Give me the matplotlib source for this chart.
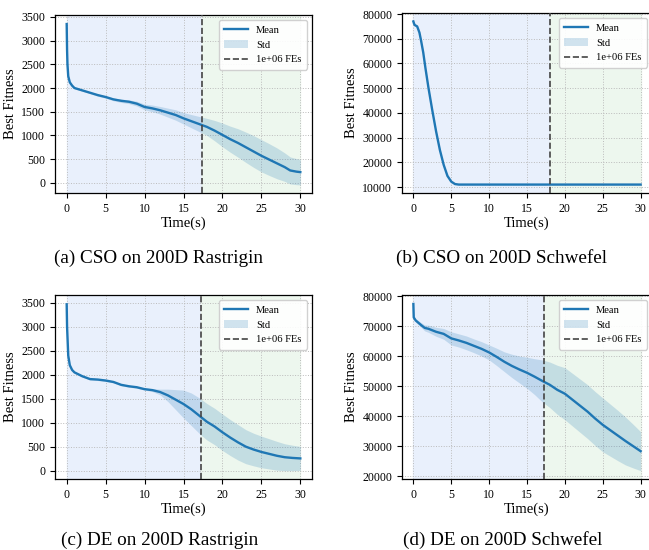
import numpy as np
import matplotlib.pyplot as plt
from matplotlib.ticker import MultipleLocator

plt.rcParams['font.family'] = ['Liberation Serif', 'DejaVu Serif']

# ---------------------------------------------------------------------------
# datos
# ---------------------------------------------------------------------------
# (a) CSO en Rastrigin 200D
t_cso_ras = [0, 0.05, 0.1, 0.2, 0.4, 0.7, 1, 2, 3, 4, 5, 6, 7, 8, 9, 10, 11, 12,
             13, 14, 15, 16, 17, 18, 19, 20, 21, 22, 23, 24, 25, 26, 27, 28,
             28.7, 29.5, 30]
mean_cso_ras = [3350, 2800, 2500, 2250, 2120, 2050, 2000, 1950, 1900, 1850,
                1810, 1760, 1730, 1710, 1670, 1600, 1570, 1530, 1480, 1430,
                1360, 1300, 1240, 1180, 1100, 1010, 920, 840, 750, 660, 570,
                490, 410, 330, 260, 235, 225]
std_cso_ras = [20, 20, 20, 20, 20, 20, 20, 20, 20, 25, 25, 30, 35, 40, 50, 60,
               70, 80, 95, 110, 120, 140, 160, 180, 215, 250, 275, 300, 320,
               335, 340, 335, 325, 300, 285, 275, 270]

# (b) CSO en Schwefel 200D
t_cso_sch = [0, 0.1, 0.2, 0.5, 0.8, 1.0, 1.3, 1.6, 2.0, 2.5, 3.0, 3.5, 4.0,
             4.5, 5.0, 5.5, 6.0, 10, 15, 20, 25, 30]
mean_cso_sch = [77000, 76000, 75500, 75000, 72500, 69500, 64500, 58000,
                50000, 41000, 32500, 25000, 19000, 14500, 12200, 11200, 11000,
                11000, 11000, 11000, 11000, 11000]
std_cso_sch = [100, 150, 200, 250, 300, 350, 400, 400, 400, 400, 400, 400,
               350, 300, 200, 150, 100, 100, 100, 100, 100, 100]

# (c) DE en Rastrigin 200D
t_de_ras = [0, 0.05, 0.1, 0.2, 0.4, 0.7, 1, 2, 3, 4, 5, 6, 7, 8, 9, 10, 11, 12,
            13, 14, 15, 16, 17, 17.3, 18, 19, 20, 21, 22, 23, 24, 25, 26, 27,
            28, 29, 30]
mean_de_ras = [3470, 3000, 2800, 2400, 2200, 2100, 2050, 1970, 1910, 1900,
               1880, 1850, 1790, 1760, 1740, 1700, 1680, 1640, 1570, 1480,
               1390, 1280, 1150, 1110, 1020, 920, 800, 690, 590, 500, 440,
               390, 350, 310, 280, 265, 255]
std_de_ras = [20, 20, 20, 20, 20, 20, 20, 20, 20, 20, 20, 20, 20, 20, 20, 20,
              30, 60, 130, 210, 290, 340, 370, 375, 380, 380, 380, 375, 370,
              355, 340, 330, 315, 300, 280, 265, 250]

# (d) DE en Schwefel 200D
t_de_sch = [0, 0.05, 0.3, 1, 1.5, 2, 3, 4, 5, 6, 7, 8, 9, 10, 11, 12, 13, 14,
            15, 16, 17, 18, 19, 20, 21, 22, 23, 24, 25, 26, 27, 28, 29, 30]
mean_de_sch = [77500, 73000, 72000, 70500, 69500, 69200, 68200, 67500, 66000,
               65300, 64500, 63500, 62500, 61300, 59800, 58200, 56800, 55600,
               54500, 53200, 51800, 50500, 48800, 47500, 45500, 43500, 41500,
               39200, 37100, 35300, 33500, 31700, 30000, 28300]
std_de_sch = [200, 400, 600, 800, 1000, 1200, 1500, 1800, 2200, 2200, 2300,
              2300, 2400, 2500, 2900, 3300, 3900, 4500, 5200, 6000, 7000, 7600,
              8200, 8700, 8800, 8900, 9000, 9000, 9000, 8700, 8400, 8000,
              7300, 6500]

# tiempo al que se alcanzan 1e+06 FEs
t_fes = [17.4, 18.1, 17.3, 17.2]
paso_y = [500, 10000, 500, 10000]

titulos = ['(a) CSO on 200D Rastrigin', '(b) CSO on 200D Schwefel',
           '(c) DE on 200D Rastrigin', '(d) DE on 200D Schwefel']

paneles = [
    (t_cso_ras, mean_cso_ras, std_cso_ras),
    (t_cso_sch, mean_cso_sch, std_cso_sch),
    (t_de_ras, mean_de_ras, std_de_ras),
    (t_de_sch, mean_de_sch, std_de_sch),
]

# posiciones de los ejes en pixeles (izq, arriba, der, abajo)
W, H = 649, 550
cajas = [(55, 15, 312, 193), (402, 13, 652, 193),
         (55, 295, 312, 479), (402, 295, 652, 479)]
pos_titulos = [(159, 258), (502, 258), (160, 540), (503, 540)]

fig = plt.figure(figsize=(W / 100, H / 100), dpi=100)

for i, (t, m, s) in enumerate(paneles):
    x0, y0, x1, y1 = cajas[i]
    ax = fig.add_axes([x0 / W, 1 - y1 / H, (x1 - x0) / W, (y1 - y0) / H])
    t = np.array(t)
    m = np.array(m, dtype=float)
    s = np.array(s, dtype=float)

    ax.axvspan(0, t_fes[i], color='#e9f0fc', zorder=0)
    ax.axvspan(t_fes[i], 30, color='#edf7ee', zorder=0)
    ax.fill_between(t, m - s, m + s, color='#1f77b4', alpha=0.2, lw=0,
                    label='Std', zorder=2)
    ax.plot(t, m, color='#1f77b4', lw=1.7, label='Mean', zorder=3)
    ax.axvline(t_fes[i], color='#444444', ls='--', lw=1.2,
               label='1e+06 FEs', zorder=4)

    ax.grid(True, ls=':', color='#bbbbbb', lw=0.7)
    ax.set_axisbelow(True)
    ax.set_xticks([0, 5, 10, 15, 20, 25, 30])
    ax.yaxis.set_major_locator(MultipleLocator(paso_y[i]))
    ax.tick_params(labelsize=8.5, length=3.5, width=0.8)
    ax.set_xlabel('Time(s)', fontsize=10.5, labelpad=1)
    ax.set_ylabel('Best Fitness', fontsize=10.5, labelpad=3)
    for sp in ax.spines.values():
        sp.set_linewidth(0.9)

    h, l = ax.get_legend_handles_labels()
    orden = [l.index('Mean'), l.index('Std'), l.index('1e+06 FEs')]
    ax.legend([h[k] for k in orden], [l[k] for k in orden], loc='upper right',
              fontsize=7.6, framealpha=0.9, fancybox=True, borderpad=0.5,
              handlelength=2.2)

    cx, cy = pos_titulos[i]
    fig.text(cx / W, 1 - cy / H, titulos[i], ha='center', va='center',
             fontsize=13.8)

fig.savefig('out.png', dpi=100)
